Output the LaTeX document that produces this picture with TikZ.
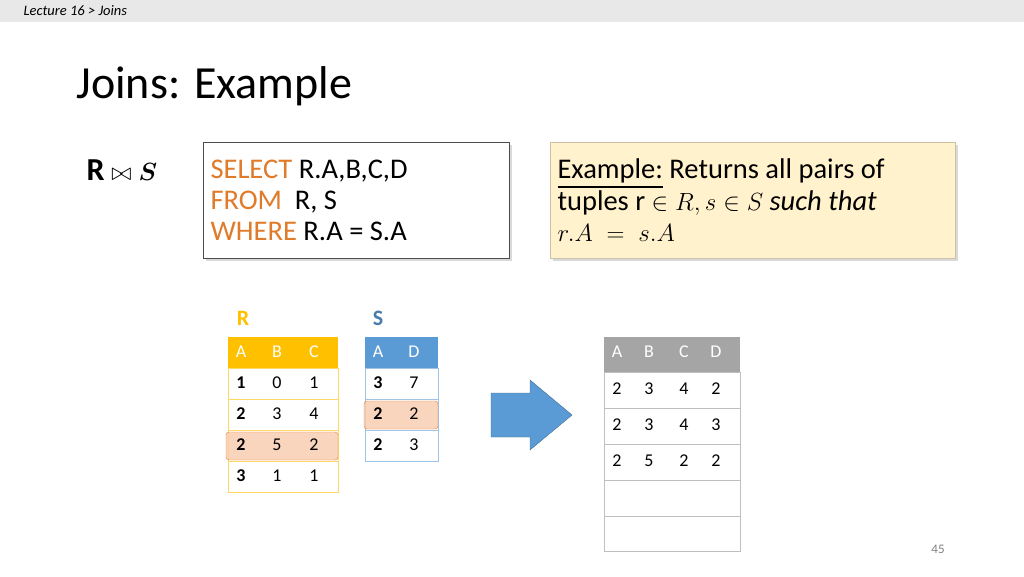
\documentclass[tikz,border=0pt]{standalone}
\usepackage{amsmath,amssymb}
\usepackage{fontspec}
\setmainfont{Carlito}
\usetikzlibrary{shadows}
\definecolor{rgold}{HTML}{FFC000}
\definecolor{sblue}{HTML}{5B9BD5}
\definecolor{sqlorange}{HTML}{E07B2A}
\definecolor{hlfill}{HTML}{F8CBAD}
\definecolor{hldraw}{HTML}{ED7D31}
\definecolor{notefill}{HTML}{FFF2CC}
\definecolor{resgray}{HTML}{A5A5A5}
\tikzstyle{hdr} = [text=white, font=\fontsize{18}{20}\selectfont]
\tikzstyle{cell} = [font=\fontsize{18}{20}\selectfont]
\tikzstyle{hl} = [rounded corners=3pt, fill=hlfill, draw=hldraw, fill opacity=0.8]

\begin{document}
\begin{tikzpicture}[x=1pt,y=-1pt]
\useasboundingbox (0,0) rectangle (1024,576);
\fill[gray!18] (0,0) rectangle (1024,22);
\node[anchor=west, font=\itshape\fontsize{14.5}{15}\selectfont] (crumb) at (20,11) {Lecture 16 > Joins};
\node[anchor=west, font=\fontsize{46}{50}\selectfont] (title) at (73,86) {Joins: Example};
\node[anchor=west, font=\fontsize{32}{34}\selectfont] (join) at (83,170) {$\mathbf{R}\bowtie\boldsymbol{S}$};

% query and note boxes
\node[draw=black!70, minimum width=306, minimum height=116, anchor=north west, drop shadow={opacity=0.3}, fill=white] (sql) at (203,142) {};
\node[anchor=west, font=\fontsize{28.5}{30}\selectfont, align=left] (sqltext) at (207,200)
  {\textcolor{sqlorange}{SELECT} R.A,B,C,D\\[1pt] \textcolor{sqlorange}{FROM}\ \ R, S\\[1pt] \textcolor{sqlorange}{WHERE}\ R.A = S.A};
\node[fill=notefill, draw=notefill!80!black, minimum width=405, minimum height=116, anchor=north west, drop shadow={opacity=0.3}] (note) at (550,142) {};
\node[anchor=west, font=\fontsize{28.5}{30}\selectfont, align=left] (notetext) at (554,200)
  {\underline{Example:} Returns all pairs of\\[1pt] tuples r $\in R, s\in S$ \textit{such that}\\[1pt] $r.A\;=\;s.A$};

% table R
\node[text=rgold, font=\bfseries\fontsize{22}{24}\selectfont] (Rlabel) at (243,318) {R};
\fill[rgold] (228,337) rectangle (338,368);
\draw[rgold!60] (228,368) rectangle (338,492);
\foreach \y in {399,430,461} \draw[rgold!60] (228,\y) -- (338,\y);
\draw[hl] (226,432) rectangle (338,460);
\foreach \x/\t in {241/A,277/B,314/C} \node[hdr] at (\x,352) {\t};
\foreach \y/\a/\b/\c in {383/1/0/1,414/2/3/4,445/2/5/2,476/3/1/1} {
  \node[cell] at (241,\y) {\textbf{\a}};
  \node[cell] at (277,\y) {\b};
  \node[cell] at (314,\y) {\c};
}

% table S
\node[text=sblue!80!black, font=\bfseries\fontsize{22}{24}\selectfont] (Slabel) at (378,318) {S};
\fill[sblue] (365,337) rectangle (438,368);
\draw[sblue!60] (365,368) rectangle (438,461);
\foreach \y in {399,430} \draw[sblue!60] (365,\y) -- (438,\y);
\draw[hl] (364,401) rectangle (438,429);
\foreach \x/\t in {378/A,414/D} \node[hdr] at (\x,352) {\t};
\foreach \y/\a/\d in {383/3/7,414/2/2,445/2/3} {
  \node[cell] at (378,\y) {\textbf{\a}};
  \node[cell] at (414,\y) {\d};
}

% arrow
\draw[fill=sblue, draw=sblue!70!black] (491,393) -- (530,393) -- (530,380) -- (572,415) -- (530,450) -- (530,437) -- (491,437) -- cycle;

% result table
\fill[resgray] (604,337) rectangle (740,372);
\draw[black!25] (604,372) rectangle (740,551);
\foreach \y in {408,444,480,516} \draw[black!25] (604,\y) -- (740,\y);
\foreach \x/\t in {617/A,649/B,684/C,716/D} \node[hdr] at (\x,352) {\t};
\foreach \y/\a/\b/\c/\d in {389/2/3/4/2,425/2/3/4/3,461/2/5/2/2} {
  \node[cell] at (617,\y) {\a};
  \node[cell] at (649,\y) {\b};
  \node[cell] at (684,\y) {\c};
  \node[cell] at (716,\y) {\d};
}

\node[text=gray, font=\fontsize{13}{14}\selectfont] (page) at (938,549) {45};
\end{tikzpicture}
\end{document}
